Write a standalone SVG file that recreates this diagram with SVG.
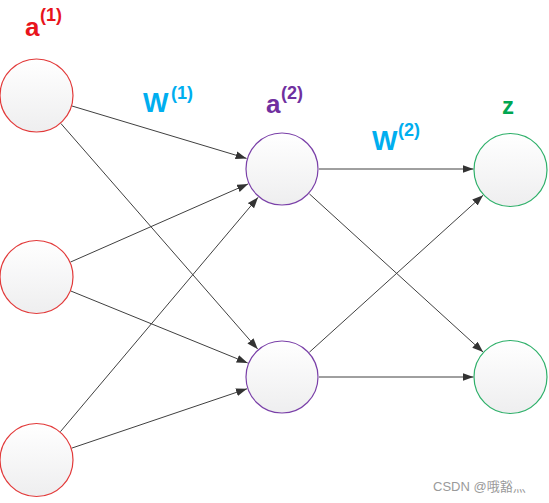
<svg xmlns="http://www.w3.org/2000/svg" width="549" height="503" viewBox="0 0 549 503">
<style>
.lbl{font-family:"Liberation Sans",Arial,sans-serif;font-weight:bold}
.edge{stroke:#404040;stroke-width:1;fill:none;marker-end:url(#ah)}
.node{fill:url(#g);stroke-width:1.2}
</style>
<defs>
<linearGradient id="g" x1="0" y1="0" x2="0" y2="1">
<stop offset="0" stop-color="#ffffff"/>
<stop offset="1" stop-color="#eeeeef"/>
</linearGradient>
<marker id="ah" markerWidth="12" markerHeight="10" refX="11" refY="4" orient="auto" markerUnits="userSpaceOnUse">
<path d="M0,0 L11,4 L0,8 Z" fill="#333333"/>
</marker>
</defs>
<rect width="549" height="503" fill="#ffffff"/>
<g id="connectors">
<path class="edge" d="M72,106 L246.6,158.4"/>
<path class="edge" d="M60.8,123.4 L257.7,349.1"/>
<path class="edge" d="M70.4,262.1 L248.1,183.9"/>
<path class="edge" d="M70.8,291 L247.7,363"/>
<path class="edge" d="M60.4,431.7 L258.1,197.3"/>
<path class="edge" d="M71.5,448.2 L247,388.8"/>
<path class="edge" d="M319,169 L473.5,169"/>
<path class="edge" d="M309.4,193.9 L483.1,352.1"/>
<path class="edge" d="M309.4,352.2 L483.1,195.2"/>
<path class="edge" d="M319,377 L473.5,377"/>
</g>
<g id="in1"><circle class="node" cx="36.5" cy="95.5" r="36.5" stroke="#e23a3a"/></g>
<g id="in2"><circle class="node" cx="36.5" cy="277" r="36.5" stroke="#e23a3a"/></g>
<g id="in3"><circle class="node" cx="36.5" cy="460" r="36.5" stroke="#e23a3a"/></g>
<g id="hid1"><circle class="node" cx="282" cy="169" r="36" stroke="#7a40a8"/></g>
<g id="hid2"><circle class="node" cx="282" cy="377" r="36" stroke="#7a40a8"/></g>
<g id="out1"><circle class="node" cx="510.5" cy="170" r="36.5" stroke="#2fb06a"/></g>
<g id="out2"><circle class="node" cx="510.5" cy="377" r="36.5" stroke="#2fb06a"/></g>
<g id="labels">
<text class="lbl" x="25" y="36" font-size="26" fill="#e8141c">a</text>
<text class="lbl" x="40" y="21" font-size="18" fill="#e8141c">(1)</text>
<text class="lbl" x="143" y="112" font-size="27" fill="#00aeef">W</text>
<text class="lbl" x="171" y="99" font-size="18" fill="#00aeef">(1)</text>
<text class="lbl" x="266" y="113" font-size="26" fill="#7030a0">a</text>
<text class="lbl" x="281" y="99" font-size="18" fill="#7030a0">(2)</text>
<text class="lbl" x="372" y="150" font-size="27" fill="#00aeef">W</text>
<text class="lbl" x="398" y="136" font-size="18" fill="#00aeef">(2)</text>
<text class="lbl" x="502" y="114" font-size="24" fill="#00a651">z</text>
</g>
<text x="433" y="491" font-size="13" fill="#9a9a9a" font-family="'Liberation Sans','Noto Sans CJK SC',sans-serif">CSDN @哦豁灬</text>
</svg>
